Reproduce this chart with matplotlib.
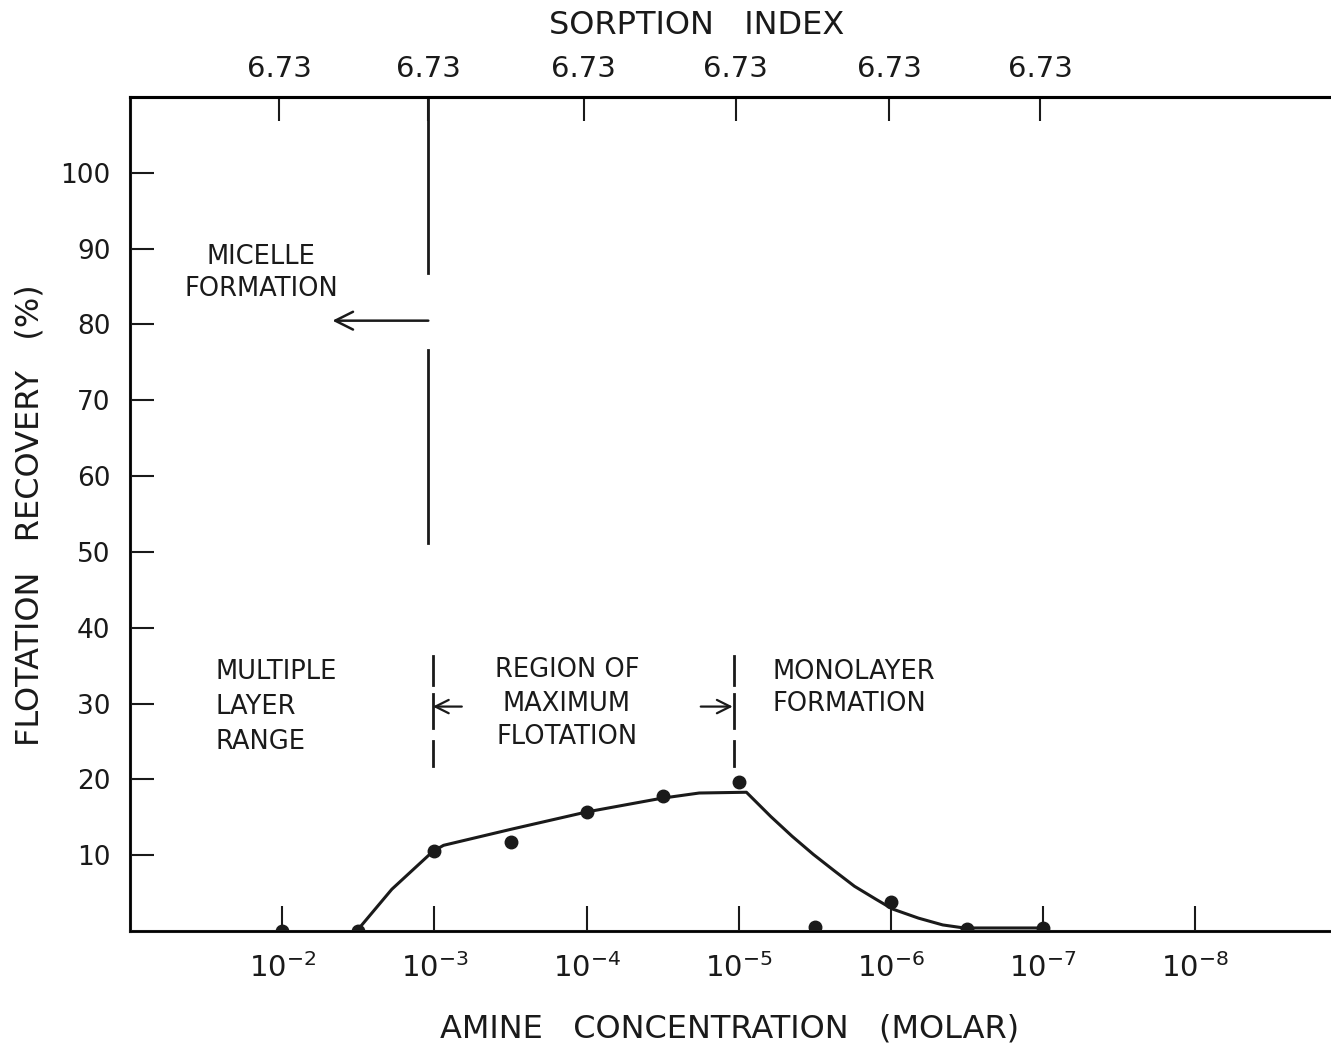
import matplotlib
matplotlib.use('Agg')
import matplotlib.pyplot as plt

# x is -log10 of amine concentration (2 -> 1e-2 M, 8 -> 1e-8 M)
conc_exp = [2, 3, 4, 5, 6, 7, 8]
conc_labels = [r'$\mathregular{10^{-%d}}$' % e for e in conc_exp]

# measured flotation recovery
pts_x = [2.0, 2.5, 3.0, 3.5, 4.0, 4.5, 5.0, 5.5, 6.0, 6.5, 7.0]
pts_y = [0.0, 0.0, 10.5, 11.8, 15.7, 17.8, 19.6, 0.5, 3.8, 0.3, 0.4]

# hand-fitted curve through the data
fit_x = [2.49, 2.72, 2.99, 3.06, 3.5, 4.0, 4.49, 4.74, 5.05, 5.21, 5.35, 5.49,
         5.63, 5.76, 5.90, 6.01, 6.18, 6.34, 6.48, 6.99]
fit_y = [0.0, 5.5, 10.5, 11.3, 13.4, 15.7, 17.5, 18.2, 18.3, 15.1, 12.5, 10.1,
         7.9, 5.9, 4.2, 2.9, 1.7, 0.8, 0.4, 0.4]

sorption_pos = [1.98, 2.96, 3.98, 4.98, 5.99, 6.98]
sorption_labels = ['6.73'] * 6
recovery_ticks = [10, 20, 30, 40, 50, 60, 70, 80, 90, 100]

ink = '#1a1a1a'
plt.rcParams['font.family'] = 'DejaVu Sans'

fig = plt.figure(figsize=(13.31, 10.5), dpi=100)
ax = fig.add_axes([130 / 1331, 1 - 931 / 1050, 1210 / 1331, 834 / 1050])
ax.set_xlim(1.0, 8.95)
ax.set_ylim(0, 110)

for s in ['left', 'bottom', 'top']:
    ax.spines[s].set_linewidth(2.2)
    ax.spines[s].set_color(ink)
ax.spines['right'].set_visible(False)

ax.plot(fit_x, fit_y, color=ink, lw=2.2, zorder=3, solid_joinstyle='round')
ax.plot(pts_x, pts_y, 'o', color=ink, ms=9, zorder=4)

ax.set_xticks(conc_exp)
ax.set_xticklabels(conc_labels, fontsize=21)
ax.set_yticks(recovery_ticks)
ax.set_yticklabels([str(v) for v in recovery_ticks], fontsize=19)
ax.tick_params(axis='x', direction='in', length=18, width=1.5, pad=16, colors=ink)
ax.tick_params(axis='y', direction='in', length=17, width=1.5, pad=14, colors=ink)

top = ax.twiny()
top.set_xlim(ax.get_xlim())
top.spines['right'].set_visible(False)
top.spines['top'].set_linewidth(2.2)
top.set_xticks(sorption_pos)
top.set_xticklabels(sorption_labels, fontsize=21)
top.tick_params(axis='x', direction='in', length=17, width=1.5, pad=10, colors=ink)

# critical micelle concentration line with gap for the arrow
ax.plot([2.96, 2.96], [86.8, 110], color=ink, lw=2)
ax.plot([2.96, 2.96], [51.2, 76.6], color=ink, lw=2)
ax.annotate('', xy=(2.33, 80.5), xytext=(2.96, 80.5),
            arrowprops=dict(arrowstyle='->', lw=1.8, color=ink, mutation_scale=32,
                            shrinkA=0, shrinkB=0))

# region boundaries
for xb in [2.99, 4.97]:
    for y0, y1 in [(32.5, 36.3), (26.8, 31.3), (21.8, 25.0)]:
        ax.plot([xb, xb], [y0, y1], color=ink, lw=2)
ax.annotate('', xy=(2.99, 29.6), xytext=(3.18, 29.6),
            arrowprops=dict(arrowstyle='->', lw=1.6, color=ink, mutation_scale=24,
                            shrinkA=0, shrinkB=0))
ax.annotate('', xy=(4.96, 29.6), xytext=(4.75, 29.6),
            arrowprops=dict(arrowstyle='->', lw=1.6, color=ink, mutation_scale=24,
                            shrinkA=0, shrinkB=0))

txt = dict(fontsize=18.5, color=ink, linespacing=1.3)
ax.text(1.86, 86.8, 'MICELLE\nFORMATION', ha='center', va='center', **txt)
ax.text(1.56, 29.6, 'MULTIPLE\nLAYER\nRANGE', ha='left', va='center',
        **dict(txt, linespacing=1.45))
ax.text(3.87, 30.0, 'REGION OF\nMAXIMUM\nFLOTATION', ha='center', va='center',
        **dict(txt, linespacing=1.38))
ax.text(5.22, 32.0, 'MONOLAYER\nFORMATION', ha='left', va='center', **txt)

fig.text(697 / 1331, 1 - 25 / 1050, 'SORPTION   INDEX', ha='center', va='center',
         fontsize=23, color=ink)
fig.text(730 / 1331, 1 - 1029 / 1050, 'AMINE   CONCENTRATION   (MOLAR)', ha='center',
         va='center', fontsize=23, color=ink)
fig.text(30 / 1331, 1 - 515 / 1050, 'FLOTATION   RECOVERY   (%)', ha='center',
         va='center', rotation=90, fontsize=23, color=ink)

fig.savefig('out.png', dpi=100, facecolor='white')
